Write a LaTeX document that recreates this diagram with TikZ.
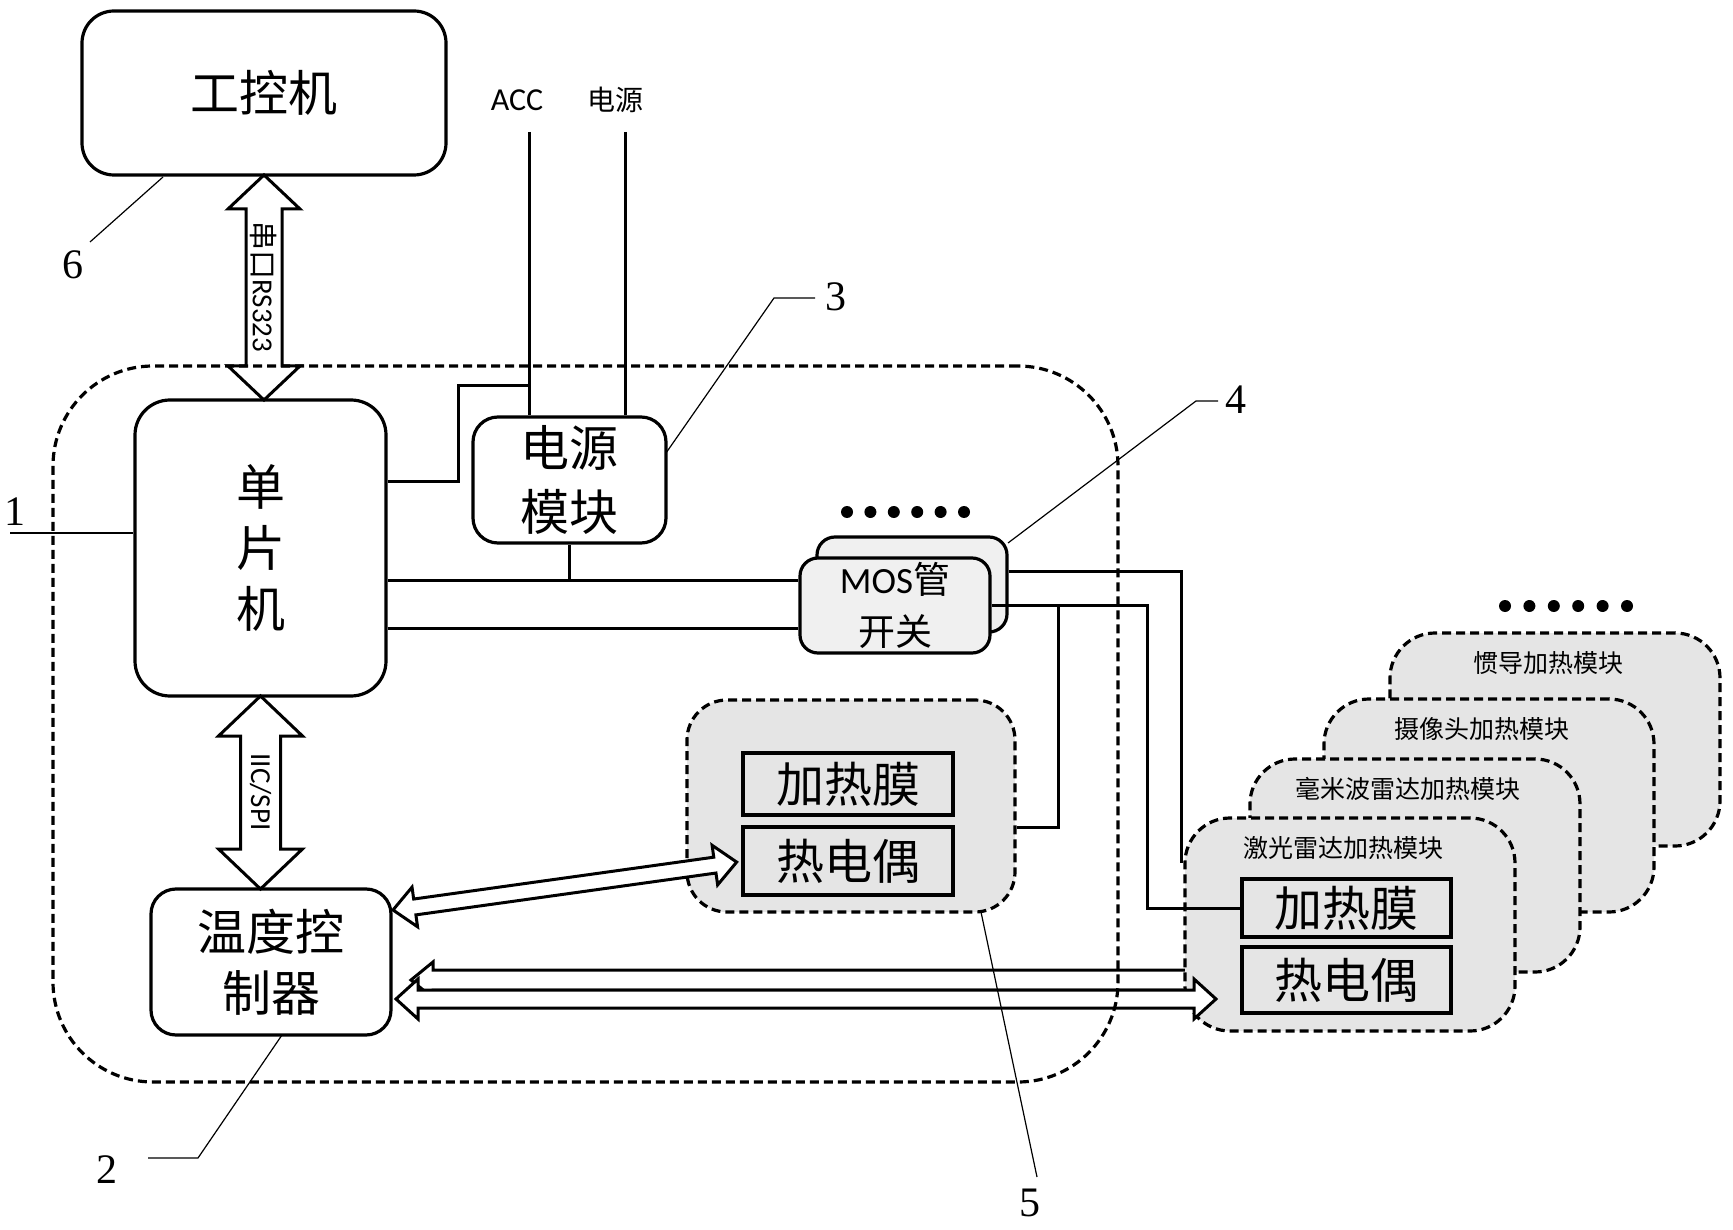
\documentclass[tikz,border=0pt]{standalone}
\usepackage{fontspec}
\setmainfont{Noto Sans CJK SC}
\newfontfamily\lat{Carlito}
\newfontfamily\numf{Liberation Serif}
\usetikzlibrary{calc}
% double arrow: start, angle, length, shaft half, head half, head length
\newcommand\DblArr[6]{%
  \begin{scope}[shift={#1},rotate=#2]
    \draw[arrowline] (0,0) -- (#6,#5) -- (#6,#4) -- ({#3-#6},#4) -- ({#3-#6},#5) -- (#3,0)
      -- ({#3-#6},-#5) -- ({#3-#6},-#4) -- (#6,-#4) -- (#6,-#5) -- cycle;
  \end{scope}}
\begin{document}
\begin{tikzpicture}[x=1pt,y=-1pt,
  box/.style={draw,line width=3.2pt,rounded corners=#1,fill=white,inner sep=0pt,align=center},
  big/.style={font=\fontsize{49}{61}\selectfont},
  wire/.style={line width=3pt},
  lead/.style={line width=1.2pt},
  dbox/.style={draw,line width=3.2pt,dash pattern=on 9pt off 5pt,rounded corners=#1,fill=gray!20,inner sep=0pt},
  inbox/.style={draw,line width=3.2pt,inner sep=0pt,minimum width=210,font=\fontsize{48}{48}\selectfont},
  arrowline/.style={draw,fill=white,line width=3pt,line join=miter},
  lbl/.style={font=\numf\fontsize{42}{42}\selectfont},
  modtitle/.style={font=\fontsize{25}{25}\selectfont},
  mosbox/.style={draw,line width=3.2pt,rounded corners=18,fill=gray!12,minimum width=190,minimum height=95,inner sep=0pt,align=center},
  modbox/.style={dbox=45,minimum width=330,minimum height=213},
]
\fill[white] (0,0) rectangle (1733,1230);
\useasboundingbox (0,0) rectangle (1733,1230);

% main boxes
\node[box=32,big,minimum width=364,minimum height=164] (ipc) at (264,93) {工控机};
\node[box=35,big,minimum width=251,minimum height=296] (mcu) at (260.5,548) {单\\片\\机};
\node[box=25,minimum width=193,minimum height=126,font=\fontsize{49}{64}\selectfont] (psu) at (569.5,480) {电源\\模块};
\node[box=25,big,minimum width=240,minimum height=146] (tc) at (271,962) {温度控\\制器};

% MOS switches
\node[mosbox] (mosB) at (912,584.5) {};
\node[mosbox,font=\fontsize{37}{52}\selectfont] (mosF) at (895,605.5) {{\lat MOS}管\\开关};
\foreach \i in {0,...,5} \fill ({847+23.4*\i},512) circle[radius=6];

% heater group 5
\node[dbox=40,minimum width=328,minimum height=212] (grp5) at (851,806) {};
\node[inbox,minimum height=62] (film5) at (848,784) {加热膜};
\node[inbox,minimum height=68] (tcp5) at (848,861) {热电偶};

% supply inputs
\node[font=\lat\fontsize{32}{32}\selectfont] (acc) at (517,100) {ACC};
\node[font=\fontsize{28}{28}\selectfont] (pwr) at (615,100) {电源};
\coordinate (accTop) at (529,132);
\coordinate (pwrTop) at (625,132);
\draw[wire] (accTop) -- (accTop |- psu.north);
\draw[wire] (pwrTop) -- (pwrTop |- psu.north);

% wires
\draw[wire] (mcu.east |- 0,482) -- (458,482) -- (458,386) -- (accTop |- 0,386);
\draw[wire] (psu.south) -- (psu.south |- 0,580);
\draw[wire] (mcu.east |- 0,580) -- (mosF.west |- 0,580);
\draw[wire] (mcu.east |- 0,628) -- (mosF.west |- 0,628);
\draw[wire] (mosB.east |- 0,571) -- (1181,571) -- (1181,863);
\draw[wire] (1058,605) -- (1058,827) -- (grp5.east |- 0,827);

% arrows
\DblArr{(264,175)}{-90}{225}{18}{36}{34}
\node[rotate=-90,font=\fontsize{29}{29}\selectfont] (sertxt) at (264,287) {串口{\lat RS323}};
\DblArr{(260.5,696)}{-90}{193}{20}{42}{40}
\node[rotate=-90,font=\lat\fontsize{29}{29}\selectfont] (iictxt) at (260.5,792) {IIC/SPI};
\DblArr{(393,910)}{7.94}{347}{8}{20}{22}
\draw[arrowline] (411,980) -- (433,962) -- (433,970) -- (1200,970) -- (1200,990) -- (433,990) -- (433,998) -- cycle;

% heating modules
\node[modbox] (ins) at (1555,739.5) {};
\node[modtitle] (insT) at ($(ins.north west)+(160,32)$) {惯导加热模块};
\node[modbox] (cam) at (1489,805.5) {};
\node[modtitle] (camT) at ($(cam.north west)+(160,32)$) {摄像头加热模块};
\node[modbox] (mmw) at (1415,865.5) {};
\node[modtitle] (mmwT) at ($(mmw.north west)+(160,32)$) {毫米波雷达加热模块};
\node[modbox] (laser) at (1350,924.5) {};
\node[modtitle] (laserT) at ($(laser.north west)+(160,32)$) {激光雷达加热模块};
\foreach \i in {0,...,5} \fill ({1505+24.4*\i},606) circle[radius=6];

\DblArr{(396,999)}{0}{820}{9}{20}{22}

\node[inbox,minimum width=209,minimum height=58] (film6) at (1346.5,908) {加热膜};
\node[inbox,minimum width=209,minimum height=66] (tcp6) at (1346.5,980) {热电偶};
\draw[wire] (mosF.east |- 0,605) -- (1147,605) -- (1147,908) -- (film6.west);

% system boundary
\node[draw,line width=3.2pt,dash pattern=on 9pt off 5pt,rounded corners=100,minimum width=1065,minimum height=716,inner sep=0pt] (sys) at (585.5,724) {};

% reference labels
\node[lbl] (n1) at (15,512) {1};
\draw[lead] (10,533) -- (mcu.west |- 0,533);
\node[lbl] (n6) at (73,265) {6};
\draw[lead] (90,242) -- (163,177);
\node[lbl] (n2) at (107,1170) {2};
\draw[lead] (148,1158) -- (198,1158) -- (282,1035);
\node[lbl] (n5) at (1030,1203) {5};
\draw[lead] (1037,1177) -- (981,912);
\node[lbl] (n3) at (836,297) {3};
\draw[lead] (666,453) -- (774,298) -- (815,298);
\node[lbl] (n4) at (1236,400) {4};
\draw[lead] (1008,543) -- (1196,401) -- (1218,401);
\end{tikzpicture}
\end{document}
